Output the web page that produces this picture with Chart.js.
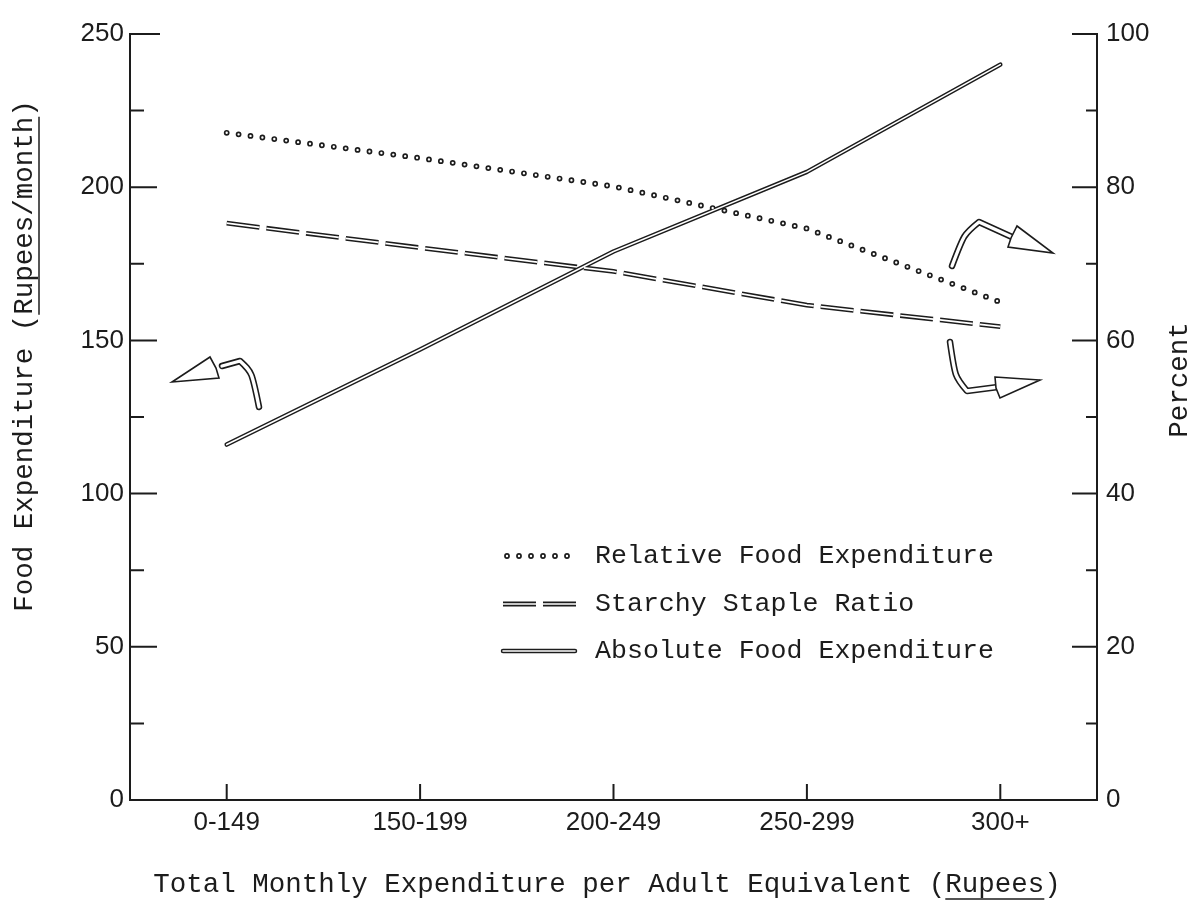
<!DOCTYPE html>
<html>
<head>
<meta charset="utf-8">
<script src="https://cdn.jsdelivr.net/npm/chart.js@4.4.1/dist/chart.umd.min.js"></script>
<style>
html, body { margin: 0; padding: 0; background: #fff; }
#wrap { width: 1193px; height: 912px; }
</style>
</head>
<body>
<div id="wrap"><canvas id="chart" width="1193" height="912"></canvas></div>
<script>
"use strict";

const categories = ["0-149", "150-199", "200-249", "250-299", "300+"];
// Rupees/month, left axis
const absoluteFood = [116, 147, 179, 205, 240];
// percent, right axis
const relativeFood = [87.1, 83.8, 80.1, 74.6, 65.0];
const starchyRatio = [75.3, 72.1, 69.0, 64.6, 61.8];

const seriesNames = ["Relative Food Expenditure", "Starchy Staple Ratio", "Absolute Food Expenditure"];
const leftTitle = ["Food Expenditure (", "Rupees/month", ")"];
const rightTitle = "Percent";
const xTitle = ["Total Monthly Expenditure per Adult Equivalent (", "Rupees", ")"];

const INK = "#1c1c1c";
const TICK_FONT = { family: "Liberation Sans", size: 26 };
const TYPE_FONT = "27.5px 'Liberation Mono'";
const LEGEND_FONT = "26.6px 'Liberation Mono'";

// stroke styles, outer (black) pass then inner (white) pass gives the hollow pen look
const styles = {
	dots: { outer: { w: 5.8, dash: [0, 12], cap: "round" }, inner: { w: 2.4, dash: [0, 12], cap: "round" } },
	dash: { outer: { w: 4.8, dash: [33, 7], cap: "butt" }, inner: { w: 1.7, dash: [33, 7], cap: "butt" } },
	solid: { outer: { w: 4.5, dash: [], cap: "round" }, inner: { w: 1.6, dash: [], cap: "round" } },
};

function makeDataset(label, data, axis, style, inner) {
	const s = inner ? style.inner : style.outer;
	return {
		label: label,
		data: data,
		yAxisID: axis,
		borderColor: inner ? "#ffffff" : INK,
		borderWidth: s.w,
		borderDash: s.dash,
		borderCapStyle: s.cap,
		borderJoinStyle: "round",
		pointRadius: 0,
		tension: 0,
		fill: false,
		order: inner ? 0 : 1,
	};
}

function strokeSample(ctx, x0, x1, y, style) {
	for (const pass of [style.outer, style.inner]) {
		ctx.save();
		ctx.strokeStyle = pass === style.inner ? "#ffffff" : INK;
		ctx.lineWidth = pass.w;
		ctx.setLineDash(pass.dash);
		ctx.lineCap = pass.cap;
		ctx.beginPath();
		ctx.moveTo(x0, y);
		ctx.lineTo(x1, y);
		ctx.stroke();
		ctx.restore();
	}
}

// hollow bent arrows pointing at the axis each group belongs to
const arrows = [
	{ shaft: [[259, 407], [252, 372], [240, 361], [222, 366]], head: [[210, 357], [172, 382], [219, 378], [216, 368]] },
	{ shaft: [[952, 266], [964, 234], [979, 222], [1012, 237]], head: [[1017, 226], [1053, 253], [1008, 247], [1011, 238]] },
	{ shaft: [[950, 342], [955, 377], [967, 391], [998, 387]], head: [[995, 377], [1040, 380], [1000, 398], [996, 388]] },
];

function drawArrow(ctx, a) {
	ctx.save();
	ctx.lineJoin = "round";
	ctx.lineCap = "round";
	const path = () => {
		ctx.beginPath();
		ctx.moveTo(a.shaft[0][0], a.shaft[0][1]);
		ctx.bezierCurveTo(a.shaft[1][0], a.shaft[1][1], a.shaft[1][0], a.shaft[1][1], a.shaft[2][0], a.shaft[2][1]);
		ctx.lineTo(a.shaft[3][0], a.shaft[3][1]);
	};
	path();
	ctx.strokeStyle = INK;
	ctx.lineWidth = 6.5;
	ctx.stroke();
	path();
	ctx.strokeStyle = "#fff";
	ctx.lineWidth = 3.3;
	ctx.stroke();
	ctx.beginPath();
	a.head.forEach((p, i) => (i ? ctx.lineTo(p[0], p[1]) : ctx.moveTo(p[0], p[1])));
	ctx.closePath();
	ctx.fillStyle = "#fff";
	ctx.fill();
	ctx.strokeStyle = INK;
	ctx.lineWidth = 1.6;
	ctx.lineJoin = "miter";
	ctx.stroke();
	ctx.restore();
}

function drawTitle(ctx, parts, cx, cy, rotate) {
	ctx.save();
	ctx.font = TYPE_FONT;
	ctx.fillStyle = INK;
	ctx.textBaseline = "middle";
	ctx.translate(cx, cy);
	if (rotate) ctx.rotate(-Math.PI / 2);
	const full = parts.join("");
	const total = ctx.measureText(full).width;
	let x = -total / 2;
	ctx.textAlign = "left";
	ctx.fillText(full, x, 0);
	if (parts.length > 1) {
		const ux0 = x + ctx.measureText(parts[0]).width;
		const ux1 = ux0 + ctx.measureText(parts[1]).width;
		ctx.strokeStyle = INK;
		ctx.lineWidth = 1.5;
		ctx.beginPath();
		ctx.moveTo(ux0, 14);
		ctx.lineTo(ux1, 14);
		ctx.stroke();
	}
	ctx.restore();
}

const decorPlugin = {
	id: "decor",
	afterDraw(chart) {
		const ctx = chart.ctx;
		const area = chart.chartArea;
		const xs = chart.scales.x;
		const yl = chart.scales.y;
		const yr = chart.scales.y2;

		ctx.save();
		ctx.strokeStyle = INK;
		ctx.lineWidth = 2;
		ctx.beginPath();
		// inward ticks on the left axis, major every 50, minor every 25
		for (let v = 25; v <= 250; v += 25) {
			const y = yl.getPixelForValue(v);
			const len = v % 50 === 0 ? (v === 250 ? 30 : 27) : 14;
			ctx.moveTo(area.left, y);
			ctx.lineTo(area.left + len, y);
		}
		// inward ticks on the right axis, major every 20, minor every 10
		for (let v = 10; v <= 100; v += 10) {
			const y = yr.getPixelForValue(v);
			const len = v % 20 === 0 ? 25 : 11;
			ctx.moveTo(area.right, y);
			ctx.lineTo(area.right - len, y);
		}
		// category ticks pointing up
		for (let i = 0; i < categories.length; i++) {
			const x = xs.getPixelForValue(i);
			ctx.moveTo(x, area.bottom);
			ctx.lineTo(x, area.bottom - 16);
		}
		ctx.stroke();
		ctx.restore();

		drawTitle(ctx, leftTitle, 25, 356, true);
		drawTitle(ctx, [rightTitle], 1180, 380, true);
		drawTitle(ctx, xTitle, 607, 885, false);

		// legend
		const rows = [
			{ name: seriesNames[0], style: styles.dots, x0: 507, x1: 568, y: 556 },
			{ name: seriesNames[1], style: styles.dash, x0: 503, x1: 576, y: 604 },
			{ name: seriesNames[2], style: styles.solid, x0: 503, x1: 575, y: 651 },
		];
		for (const r of rows) {
			strokeSample(ctx, r.x0, r.x1, r.y, r.style);
			ctx.save();
			ctx.font = LEGEND_FONT;
			ctx.fillStyle = INK;
			ctx.textBaseline = "middle";
			ctx.fillText(r.name, 595, r.y);
			ctx.restore();
		}

		for (const a of arrows) drawArrow(ctx, a);
	},
};

const axisBorder = { display: true, color: INK, width: 2 };
const noGrid = { display: true, drawOnChartArea: false, drawTicks: false };

new Chart(document.getElementById("chart"), {
	type: "line",
	data: {
		labels: categories,
		datasets: [
			makeDataset(seriesNames[0], relativeFood, "y2", styles.dots, false),
			makeDataset(seriesNames[1], starchyRatio, "y2", styles.dash, false),
			makeDataset(seriesNames[2], absoluteFood, "y", styles.solid, false),
			makeDataset(seriesNames[0], relativeFood, "y2", styles.dots, true),
			makeDataset(seriesNames[1], starchyRatio, "y2", styles.dash, true),
			makeDataset(seriesNames[2], absoluteFood, "y", styles.solid, true),
		],
	},
	options: {
		responsive: false,
		animation: false,
		layout: { padding: { top: 34, left: 0, right: 0, bottom: 0 } },
		plugins: {
			legend: { display: false },
			tooltip: { enabled: false },
		},
		scales: {
			x: {
				type: "category",
				offset: true,
				grid: noGrid,
				border: axisBorder,
				ticks: { font: TICK_FONT, color: INK, padding: 7, maxRotation: 0 },
				afterFit: s => { s.height = 112; },
			},
			y: {
				position: "left",
				min: 0,
				max: 250,
				grid: noGrid,
				border: axisBorder,
				ticks: { stepSize: 50, font: TICK_FONT, color: INK, padding: 6 },
				afterFit: s => { s.width = 130; },
			},
			y2: {
				position: "right",
				min: 0,
				max: 100,
				grid: noGrid,
				border: axisBorder,
				ticks: { stepSize: 20, font: TICK_FONT, color: INK, padding: 9 },
				afterFit: s => { s.width = 96; },
			},
		},
	},
	plugins: [decorPlugin],
});
</script>
</body>
</html>
